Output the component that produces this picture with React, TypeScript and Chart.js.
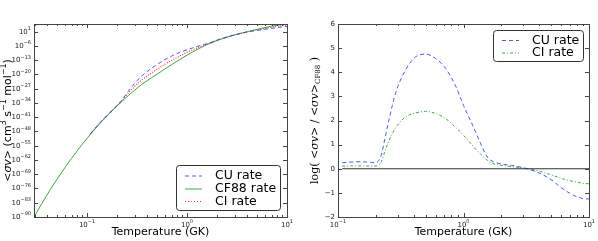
import React, { useEffect, useRef } from "react";
import { Chart, registerables } from "chart.js";
Chart.register(...registerables);

// ---------- Left panel data (log10 of rate) ----------
const cf88T = [0.0295, 0.035, 0.043, 0.055, 0.07, 0.087, 0.108, 0.14, 0.19, 0.2, 0.22, 0.26, 0.3, 0.35, 0.43, 0.5, 0.6, 0.7, 0.85, 1.0, 1.3, 1.7, 2.2, 2.7, 3.5, 4.3, 5.5, 6.8, 8, 10];
const cf88Log = [-90, -83.7, -76.5, -68.5, -61.2, -55.1, -49.4, -43.1, -36.5, -35.4, -33.5, -30.3, -27.7, -25.0, -22.0, -19.9, -17.3, -15.2, -12.6, -10.5, -7.4, -4.7, -2.6, -1.2, 0.3, 1.4, 2.6, 3.6, 4.2, 4.9];
const rateT = [0.108, 0.14, 0.19, 0.2, 0.22, 0.26, 0.3, 0.35, 0.43, 0.5, 0.6, 0.7, 0.85, 1.0, 1.3, 1.7, 2.2, 2.7, 3.5, 4.3, 5.5, 6.8, 8, 10];
const cuLog = [-49.15, -42.82, -36.24, -35.15, -32.95, -28.1, -24.35, -20.88, -17.34, -15.15, -12.73, -10.98, -9.08, -7.87, -6.05, -4.4, -2.44, -1.12, 0.23, 1.15, 1.92, 2.62, 3.05, 3.65];
const ciLog = [-49.29, -42.98, -36.39, -35.29, -33.22, -29.05, -25.85, -22.83, -19.67, -17.52, -15.01, -13.08, -10.83, -9.11, -6.68, -4.43, -2.49, -1.15, 0.26, 1.25, 2.27, 3.12, 3.65, 4.28];
const leftYTickExps = [1, -6, -13, -20, -27, -34, -41, -48, -55, -62, -69, -76, -83, -90];
const leftXTickExps = [-1, 0, 1];

// ---------- Right panel data (log ratio) ----------
const ratioT = [0.108, 0.13, 0.15, 0.18, 0.2, 0.212, 0.222, 0.232, 0.254, 0.287, 0.345, 0.415, 0.5, 0.6, 0.72, 0.86, 1.0, 1.2, 1.37, 1.55, 1.75, 2.0, 2.4, 3.0, 3.4, 3.9, 4.65, 5.3, 5.9, 6.7, 7.6, 8.5, 9.1, 10];
const cuRatio = [0.25, 0.28, 0.29, 0.27, 0.25, 0.35, 0.6, 1.04, 2.0, 3.12, 4.09, 4.64, 4.75, 4.57, 4.16, 3.46, 2.63, 1.73, 1.04, 0.48, 0.28, 0.2, 0.14, 0.04, -0.04, -0.15, -0.35, -0.55, -0.76, -0.95, -1.11, -1.2, -1.25, -1.25];
const ciRatio = [0.11, 0.12, 0.12, 0.11, 0.11, 0.16, 0.3, 0.6, 1.15, 1.68, 2.15, 2.31, 2.38, 2.29, 2.08, 1.73, 1.39, 0.92, 0.6, 0.35, 0.2, 0.14, 0.09, 0.03, -0.02, -0.08, -0.2, -0.3, -0.38, -0.47, -0.53, -0.58, -0.61, -0.62];
const zeroLineT = [0.108, 10];
const zeroLineY = [0, 0];
const rightYTicks = [-2, -1, 0, 1, 2, 3, 4, 5, 6];
const rightXTickExps = [-1, 0, 1];

const BLUE = "rgba(40,40,255,0.8)";
const GREEN = "rgb(60,170,60)";
const RED = "rgba(255,30,30,0.95)";
const FRAME = "#444";
const SANS = "DejaVu Sans";
const SERIF = "DejaVu Serif";

type Piece = { t: string; f: string; dy?: number };

function supStr(n: number) {
  return (n < 0 ? "\u2212" : "") + Math.abs(n).toString();
}

function drawPieces(ctx: CanvasRenderingContext2D, pieces: Piece[], x: number, y: number, align: "left" | "center" | "right", rotate = false) {
  ctx.save();
  ctx.translate(x, y);
  if (rotate) ctx.rotate(-Math.PI / 2);
  ctx.textBaseline = "middle";
  ctx.textAlign = "left";
  const widths = pieces.map((p) => {
    ctx.font = p.f;
    return ctx.measureText(p.t).width;
  });
  const total = widths.reduce((a, b) => a + b, 0);
  let cx = align === "left" ? 0 : align === "center" ? -total / 2 : -total;
  pieces.forEach((p, i) => {
    ctx.font = p.f;
    ctx.fillText(p.t, cx, p.dy || 0);
    cx += widths[i];
  });
  ctx.restore();
}

function powPieces(e: number): Piece[] {
  return [
    { t: "10", f: `7px ${SANS}` },
    { t: supStr(e), f: `5px ${SANS}`, dy: -3 },
  ];
}

type LegendItem = { label: string; color: string; dash: number[] };
type DecorOpts = {
  yTicks: number[];
  yLabel: (v: number) => Piece[];
  xTickExps: number[];
  yTitle: Piece[];
  yTitleX: number;
  legend: { x: number; y: number; w: number; h: number; rowY: number[]; lineX: number; lineW: number; textX: number; items: LegendItem[] };
};

function makeDecor(o: DecorOpts) {
  return {
    id: "decor",
    afterDatasetsDraw(chart: any) {
      const ctx: CanvasRenderingContext2D = chart.ctx;
      const { left, right, top, bottom } = chart.chartArea;
      const xs = chart.scales.x;
      const ys = chart.scales.y;
      ctx.save();
      ctx.strokeStyle = FRAME;
      ctx.fillStyle = "#222";
      ctx.lineWidth = 1;
      const xmin = xs.min, xmax = xs.max;
      for (let k = -3; k <= 1; k++) {
        for (let d = 1; d <= 9; d++) {
          const v = d * Math.pow(10, k);
          if (v < xmin * 0.999 || v > xmax * 1.001) continue;
          const px = Math.round(xs.getPixelForValue(v)) + 0.5;
          const len = d === 1 ? 4 : 2;
          ctx.beginPath();
          ctx.moveTo(px, bottom);
          ctx.lineTo(px, bottom - len);
          ctx.moveTo(px, top);
          ctx.lineTo(px, top + len);
          ctx.stroke();
        }
      }
      o.yTicks.forEach((v) => {
        const py = Math.round(ys.getPixelForValue(v)) + 0.5;
        ctx.beginPath();
        ctx.moveTo(left, py);
        ctx.lineTo(left + 4, py);
        ctx.moveTo(right, py);
        ctx.lineTo(right - 4, py);
        ctx.stroke();
      });
      ctx.strokeRect(Math.round(left) + 0.5, Math.round(top) + 0.5, Math.round(right - left), Math.round(bottom - top));
      o.xTickExps.forEach((e) => {
        const px = xs.getPixelForValue(Math.pow(10, e));
        drawPieces(ctx, powPieces(e), px, bottom + 8, "center");
      });
      o.yTicks.forEach((v) => {
        const py = ys.getPixelForValue(v);
        drawPieces(ctx, o.yLabel(v), left - 3, py, "right");
      });
      ctx.fillStyle = "#000";
      drawPieces(ctx, [{ t: "Temperature (GK)", f: `11px ${SANS}` }], (left + right) / 2, 232, "center");
      drawPieces(ctx, o.yTitle, o.yTitleX, (top + bottom) / 2, "center", true);
      const L = o.legend;
      ctx.beginPath();
      (ctx as any).roundRect(L.x + 0.5, L.y + 0.5, L.w, L.h, 3);
      ctx.fillStyle = "#fff";
      ctx.fill();
      ctx.strokeStyle = "#333";
      ctx.stroke();
      L.items.forEach((it, i) => {
        const ry = L.rowY[i];
        ctx.save();
        ctx.strokeStyle = it.color;
        ctx.setLineDash(it.dash);
        ctx.beginPath();
        ctx.moveTo(L.lineX, ry + 0.5);
        ctx.lineTo(L.lineX + L.lineW, ry + 0.5);
        ctx.stroke();
        ctx.restore();
        ctx.fillStyle = "#000";
        drawPieces(ctx, [{ t: it.label, f: `12.5px ${SANS}` }], L.textX, ry + 0.5, "left");
      });
      ctx.restore();
    },
  } as any;
}

export default function App() {
  const leftRef = useRef<HTMLCanvasElement>(null);
  const rightRef = useRef<HTMLCanvasElement>(null);

  useEffect(() => {
    const leftDecor = makeDecor({
      yTicks: leftYTickExps.map((e) => Math.pow(10, e)),
      yLabel: (v) => powPieces(Math.round(Math.log10(v))),
      xTickExps: leftXTickExps,
      yTitleX: 8,
      yTitle: [
        { t: "<", f: `11px ${SANS}` },
        { t: "\u03C3v", f: `italic 11px ${SANS}` },
        { t: "> (cm", f: `11px ${SANS}` },
        { t: "3", f: `8px ${SANS}`, dy: -4 },
        { t: " s", f: `11px ${SANS}` },
        { t: "\u22121", f: `8px ${SANS}`, dy: -4 },
        { t: " mol", f: `11px ${SANS}` },
        { t: "\u22121", f: `8px ${SANS}`, dy: -4 },
        { t: ")", f: `11px ${SANS}` },
      ],
      legend: { x: 176, y: 165, w: 104, h: 45, rowY: [175.5, 188.5, 201], lineX: 185, lineW: 17, textX: 215, items: [
        { label: "CU rate", color: BLUE, dash: [4, 3] },
        { label: "CF88 rate", color: GREEN, dash: [] },
        { label: "CI rate", color: RED, dash: [1, 2] },
      ] },
    });
    const lc = new Chart(leftRef.current!, {
      type: "line",
      data: {
        datasets: [
          { label: "CU rate", data: rateT.map((t, i) => ({ x: t, y: Math.pow(10, cuLog[i]) })), borderColor: BLUE, borderDash: [4, 3], borderWidth: 1, pointRadius: 0 },
          { label: "CF88 rate", data: cf88T.map((t, i) => ({ x: t, y: Math.pow(10, cf88Log[i]) })), borderColor: GREEN, borderWidth: 1, pointRadius: 0 },
          { label: "CI rate", data: rateT.map((t, i) => ({ x: t, y: Math.pow(10, ciLog[i]) })), borderColor: RED, borderDash: [1, 1.5], borderWidth: 1.1, pointRadius: 0 },
        ],
      },
      options: {
        animation: false,
        responsive: false,
        layout: { padding: { left: 34, right: 13, top: 24, bottom: 24 } },
        elements: { line: { cubicInterpolationMode: "monotone" } },
        scales: {
          x: { type: "logarithmic", display: false, min: 0.0295, max: 10 },
          y: { type: "logarithmic", display: false, min: 1e-90, max: Math.pow(10, 4.8) },
        },
        plugins: { legend: { display: false }, tooltip: { enabled: false } },
      } as any,
      plugins: [leftDecor],
    });

    const rightDecor = makeDecor({
      yTicks: rightYTicks,
      yLabel: (v) => [{ t: supStr(v), f: `7px ${SANS}` }],
      xTickExps: rightXTickExps,
      yTitleX: 15,
      yTitle: [
        { t: "log( <", f: `11px ${SERIF}` },
        { t: "\u03C3v", f: `italic 11px ${SERIF}` },
        { t: "> / <", f: `11px ${SERIF}` },
        { t: "\u03C3v", f: `italic 11px ${SERIF}` },
        { t: ">", f: `11px ${SERIF}` },
        { t: "CF88", f: `7px ${SERIF}`, dy: 3 },
        { t: " )", f: `11px ${SERIF}` },
      ],
      legend: { x: 193, y: 30, w: 90, h: 31, rowY: [40, 52.5], lineX: 202, lineW: 17, textX: 232, items: [
        { label: "CU rate", color: BLUE, dash: [4, 3] },
        { label: "CI rate", color: GREEN, dash: [3, 2, 1, 2] },
      ] },
    });
    const rc = new Chart(rightRef.current!, {
      type: "line",
      data: {
        datasets: [
          { label: "zero", data: zeroLineT.map((t, i) => ({ x: t, y: zeroLineY[i] })), borderColor: "#333", borderWidth: 1.2, pointRadius: 0 },
          { label: "CU rate", data: ratioT.map((t, i) => ({ x: t, y: cuRatio[i] })), borderColor: BLUE, borderDash: [4, 3], borderWidth: 1, pointRadius: 0 },
          { label: "CI rate", data: ratioT.map((t, i) => ({ x: t, y: ciRatio[i] })), borderColor: GREEN, borderDash: [3, 2, 1, 2], borderWidth: 1, pointRadius: 0 },
        ],
      },
      options: {
        animation: false,
        responsive: false,
        layout: { padding: { left: 38, right: 9, top: 24, bottom: 24 } },
        elements: { line: { cubicInterpolationMode: "monotone" } },
        scales: {
          x: { type: "logarithmic", display: false, min: 0.1, max: 10 },
          y: { type: "linear", display: false, min: -2, max: 6 },
        },
        plugins: { legend: { display: false }, tooltip: { enabled: false } },
      } as any,
      plugins: [rightDecor],
    });
    return () => {
      lc.destroy();
      rc.destroy();
    };
  }, []);

  return (
    <div style={{ position: "absolute", left: 0, top: 0, width: 598, height: 241, background: "#fff" }}>
      <canvas ref={leftRef} width={300} height={241} style={{ position: "absolute", left: 0, top: 0, width: 300, height: 241 }} />
      <canvas ref={rightRef} width={298} height={241} style={{ position: "absolute", left: 300, top: 0, width: 298, height: 241 }} />
    </div>
  );
}
